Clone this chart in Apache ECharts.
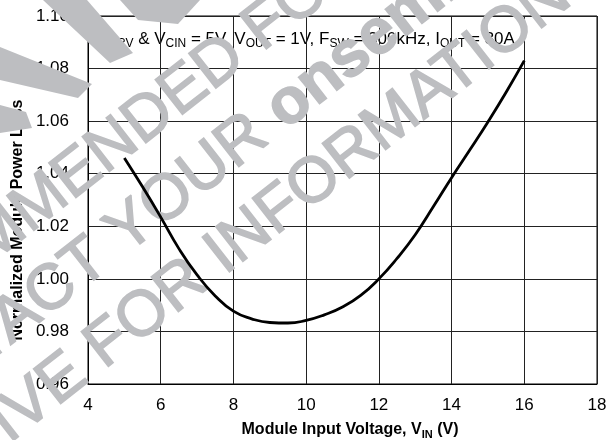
<!DOCTYPE html>
<html>
<head>
<meta charset="utf-8">
<script src="https://cdn.jsdelivr.net/npm/echarts@6/dist/echarts.min.js"></script>
<style>
  html, body { margin: 0; padding: 0; background: #fff; }
  #chart { width: 615px; height: 440px; }
</style>
</head>
<body>
<div id="chart"></div>
<script>
// module input voltage (V) and normalized power loss
var vin = [5, 5.5, 6, 6.5, 7, 7.5, 8, 8.5, 9, 9.5, 10, 10.5, 11, 11.5, 12, 12.5, 13, 13.5, 14, 14.5, 15, 15.5, 16];
var loss = [1.046, 1.035, 1.0235, 1.0115, 1.0015, 0.9935, 0.9877, 0.9848, 0.9834, 0.9832, 0.9842, 0.9863, 0.9893, 0.9937, 1.000, 1.0078, 1.0168, 1.0275, 1.0385, 1.049, 1.0597, 1.071, 1.083];
var xTicks = [4, 18, 2];        // min, max, step
var yTicks = [0.96, 1.10, 0.02];

var font = '"Liberation Sans", Arial, sans-serif';
var grey = '#bdbec1';
var rot = 38 * Math.PI / 180;

var myChart = echarts.init(document.getElementById('chart'));

var wm = { fontSize: 64, fontFamily: font, fill: grey, stroke: grey, lineWidth: 1.6 };

var option = {
  animation: false,
  grid: {
    left: 88, right: 18, top: 16, bottom: 56,
    show: true, borderColor: '#000', borderWidth: 1
  },
  xAxis: {
    type: 'value',
    min: xTicks[0], max: xTicks[1], interval: xTicks[2],
    axisLine: { lineStyle: { color: '#000', width: 1 } },
    axisTick: { show: false },
    axisLabel: { color: '#000', fontSize: 17, fontFamily: font, margin: 13 },
    splitLine: { lineStyle: { color: '#222', width: 1 } }
  },
  yAxis: {
    type: 'value',
    min: yTicks[0], max: yTicks[1], interval: yTicks[2],
    axisLine: { show: true, lineStyle: { color: '#000', width: 1 } },
    axisTick: { show: false },
    axisLabel: {
      color: '#000', fontSize: 17, fontFamily: font, margin: 19,
      formatter: function (v) { return v.toFixed(2); }
    },
    splitLine: { lineStyle: { color: '#222', width: 1 } }
  },
  graphic: [
    {
      type: 'text', x: 97, y: 39, z: 0,
      style: {
        text: '{m|V}{s|DRV}{m| & V}{s|CIN}{m| = 5V, V}{s|OUT}{m| = 1V, F}{s|SW}{m| = 300kHz, I}{s|OUT}{m| = 30A}',
        align: 'left', verticalAlign: 'middle',
        rich: {
          m: { fontSize: 17, fontFamily: font, fill: '#000', lineHeight: 21 },
          s: { fontSize: 12, fontFamily: font, fill: '#000', lineHeight: 12, verticalAlign: 'bottom' }
        }
      }
    },
    {
      type: 'text', x: 350, y: 430, z: 0,
      style: {
        text: '{m|Module Input Voltage, V}{s|IN}{m| (V)}',
        align: 'center', verticalAlign: 'middle',
        rich: {
          m: { fontSize: 16, fontWeight: 'bold', fontFamily: font, fill: '#000', lineHeight: 20 },
          s: { fontSize: 11, fontWeight: 'bold', fontFamily: font, fill: '#000', lineHeight: 11, verticalAlign: 'bottom' }
        }
      }
    },
    {
      type: 'text', x: 18, y: 220, rotation: Math.PI / 2, z: 0,
      style: {
        text: 'Normalized Module Power Loss',
        align: 'center', verticalAlign: 'middle',
        fontSize: 16, fontWeight: 'bold', fontFamily: font, fill: '#000'
      }
    },
    // watermark
    {
      type: 'group', x: 98, y: 352, rotation: rot, z: 1,
      children: [
        {
          type: 'text', x: -372, y: -153, z: 1,
          style: Object.assign({ text: 'NOT RECOMMENDED FOR NEW DESIGN', align: 'left', verticalAlign: 'middle' }, wm)
        },
        {
          type: 'text', x: 0, y: -77, z: 1,
          style: {
            text: '{n|PLEASE CONTACT YOUR }{b|onsemi}',
            align: 'center', verticalAlign: 'middle',
            rich: {
              n: wm,
              b: Object.assign({}, wm, { fontWeight: 'bold' })
            }
          }
        },
        {
          type: 'text', x: 0, y: 0, z: 1,
          style: Object.assign({ text: 'REPRESENTATIVE FOR INFORMATION', align: 'center', verticalAlign: 'middle' }, wm)
        }
      ]
    },
    { type: 'polygon', z: 1, shape: { points: [[43, 0], [87, 0], [133, 53], [110, 63]] }, style: { fill: grey } },
    { type: 'polygon', z: 1, shape: { points: [[0, 47], [0, 80], [78, 98], [92, 84]] }, style: { fill: grey } },
    { type: 'polygon', z: 1, shape: { points: [[0, 105], [0, 133], [32, 128], [26, 112]] }, style: { fill: grey } },
    { type: 'polygon', z: 1, shape: { points: [[120, 0], [200, 0], [178, 24], [138, 20]] }, style: { fill: grey } }
  ],
  series: [
    {
      type: 'line',
      z: 5,
      data: vin.map(function (v, i) { return [v, loss[i]]; }),
      smooth: 0.5,
      showSymbol: false,
      lineStyle: { color: '#000', width: 2.8 }
    }
  ]
};

myChart.setOption(option);
</script>
</body>
</html>
